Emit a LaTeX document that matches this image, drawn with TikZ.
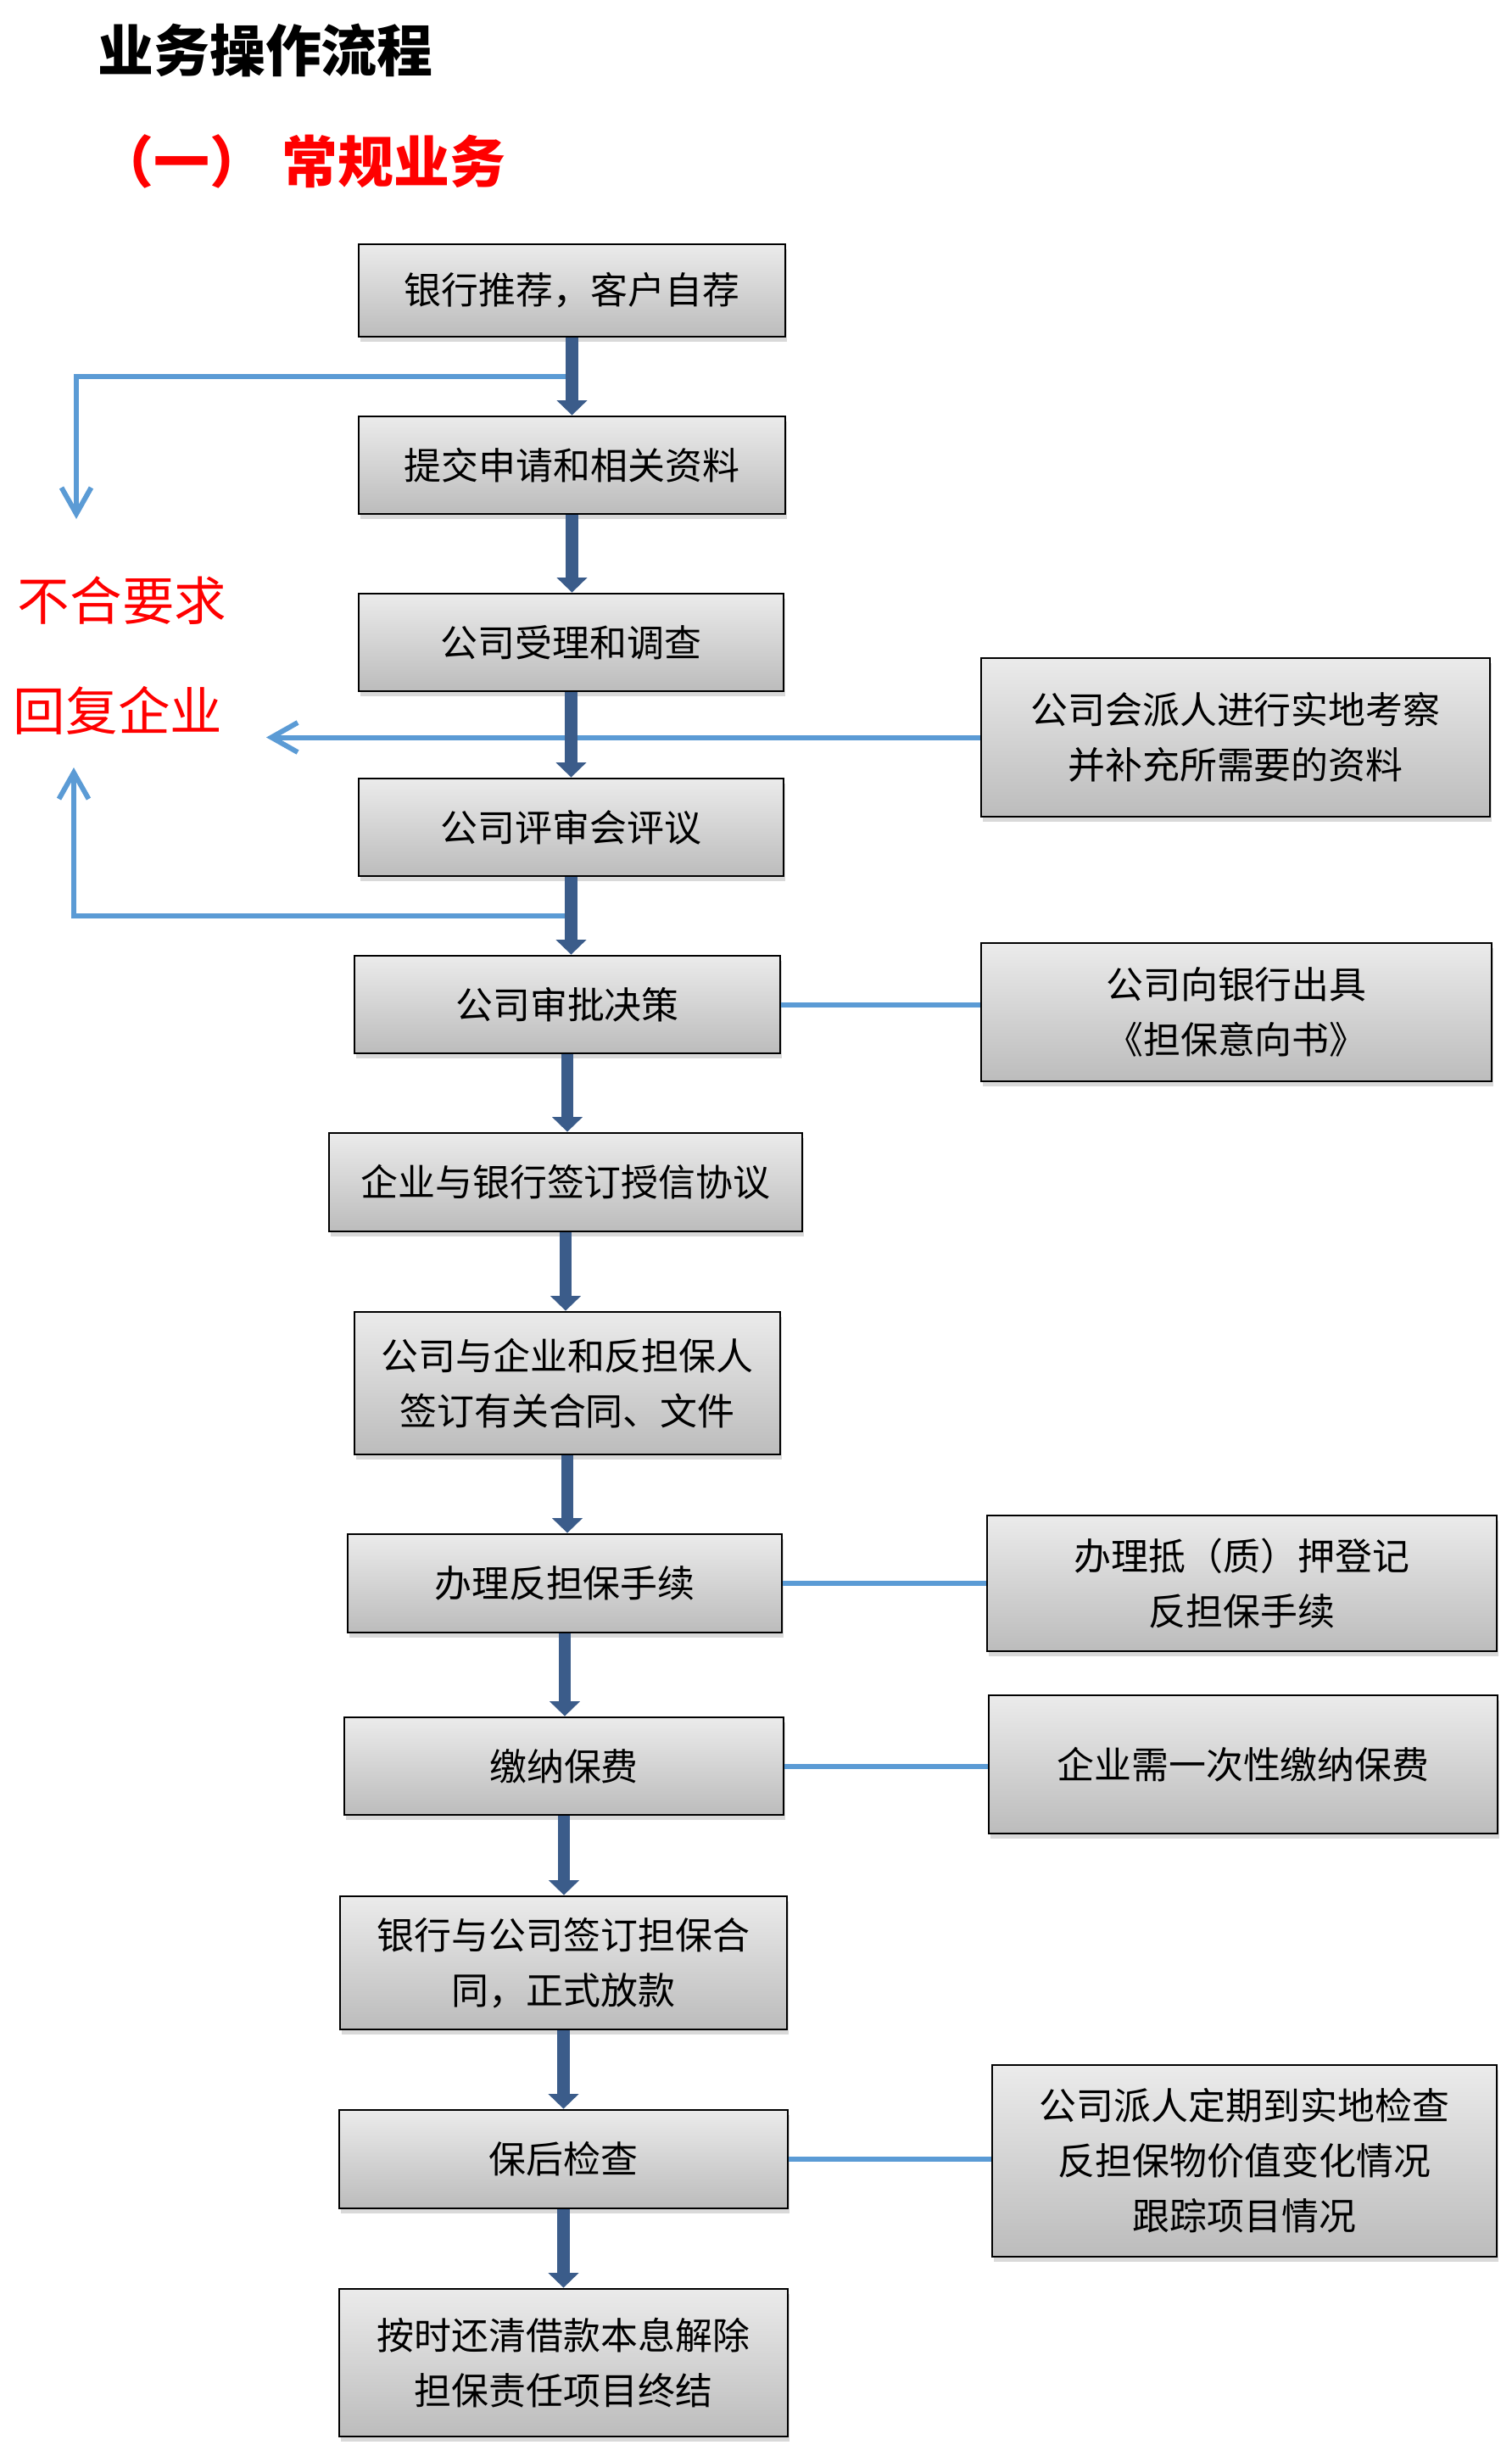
\documentclass[tikz,border=0pt]{standalone}
\usepackage{fontspec}
\setmainfont{Noto Sans CJK SC}
\usetikzlibrary{arrows.meta, calc, shadows}
\definecolor{cdark}{HTML}{3B5C8A}
\definecolor{cline}{HTML}{5B9BD5}
\definecolor{cred}{HTML}{FF0000}
\definecolor{ctop}{HTML}{EBEBEB}
\definecolor{cbot}{HTML}{BCBCBC}
\tikzset{
  box/.style={draw=black, line width=1.6pt, top color=ctop, bottom color=cbot, align=center, inner sep=0pt, minimum width=#1, font=\fontsize{25}{37}\selectfont, drop shadow={shadow xshift=0.04cm, shadow yshift=-0.12cm, opacity=0.3}},
  box/.default=10.06cm,
  flow/.style={-{Triangle[width=20pt, length=10pt]}, draw=cdark, line width=8pt},
  link/.style={draw=cline, line width=3.4pt},
  back/.style={-{Straight Barb[width=0.7cm, length=0.62cm]}, draw=cline, line width=3.4pt},
  title/.style={font=\fontsize{37.5}{40}\selectfont\bfseries, anchor=west, inner sep=0pt},
  warn/.style={font=\fontsize{35}{40}\selectfont, text=cred, inner sep=0pt},
}

\begin{document}
\begin{tikzpicture}[x=1cm, y=1cm]
  \useasboundingbox (0,0) rectangle (35.66,-57.92);
  \node[title] (head) at (2.3,-1.18) {业务操作流程};
  \node[title, text=cred] (sub) at (2.3,-3.8) {（一）\hspace{0.3em}常规业务};
  % main steps
  \node[box, minimum height=2.18cm] (b1) at (13.49,-6.85) {银行推荐，客户自荐};
  \node[box, minimum height=2.3cm] (b2) at (13.49,-10.97) {提交申请和相关资料};
  \node[box=10.02cm, minimum height=2.3cm] (b3) at (13.47,-15.15) {公司受理和调查};
  \node[box=10.02cm, minimum height=2.3cm] (b4) at (13.47,-19.51) {公司评审会评议};
  \node[box=10.04cm, minimum height=2.3cm] (b5) at (13.38,-23.69) {公司审批决策};
  \node[box=11.16cm, minimum height=2.32cm] (b6) at (13.34,-27.88) {企业与银行签订授信协议};
  \node[box=10.04cm, minimum height=3.36cm] (b7) at (13.38,-32.62) {公司与企业和反担保人\\签订有关合同、文件};
  \node[box=10.24cm, minimum height=2.32cm] (b8) at (13.32,-37.34) {办理反担保手续};
  \node[box=10.36cm, minimum height=2.3cm] (b9) at (13.30,-41.65) {缴纳保费};
  \node[box=10.54cm, minimum height=3.14cm] (b10) at (13.29,-46.29) {银行与公司签订担保合\\同，正式放款};
  \node[box=10.58cm, minimum height=2.32cm] (b11) at (13.29,-50.92) {保后检查};
  \node[box=10.58cm, minimum height=3.48cm] (b12) at (13.29,-55.72) {按时还清借款本息解除\\担保责任项目终结};
  % side notes
  \node[box=12cm, minimum height=3.74cm] (r1) at (29.14,-17.39) {公司会派人进行实地考察\\并补充所需要的资料};
  \node[box=12.04cm, minimum height=3.26cm] (r2) at (29.16,-23.87) {公司向银行出具\\《担保意向书》};
  \node[box=12.02cm, minimum height=3.2cm] (r3) at (29.29,-37.34) {办理抵（质）押登记\\反担保手续};
  \node[box=12cm, minimum height=3.26cm] (r4) at (29.32,-41.61) {企业需一次性缴纳保费};
  \node[box=11.9cm, minimum height=4.52cm] (r5) at (29.35,-50.96) {公司派人定期到实地检查\\反担保物价值变化情况\\跟踪项目情况};
  % rejection
  \node[warn] (bad) at (2.88,-14.16) {不合要求};
  \node[warn] (reply) at (2.78,-16.76) {回复企业};
  \coordinate (j1) at ($(b1.south)!0.5!(b2.north)$);
  \coordinate (j2) at ($(b4.south)!0.5!(b5.north)$);
  \coordinate (down) at (1.8,-12.24);
  \coordinate (tip) at (6.28,-17.3);
  \coordinate (up) at (1.74,-18.1);
  \draw[back] (j1) -| (down);
  \draw[back] (r1.west) -- (r1.west -| tip);
  \draw[back] (j2) -| (up);
  % links to notes
  \draw[link] (b5.east) -- (b5.east -| r2.west);
  \draw[link] (b8.east) -- (b8.east -| r3.west);
  \draw[link] (b9.east) -- (b9.east -| r4.west);
  \draw[link] (b11.east) -- (b11.east -| r5.west);
  % flow
  \draw[flow] (b1.south) -- (b1.south |- b2.north); \draw[flow] (b2.south) -- (b2.south |- b3.north);
  \draw[flow] (b3.south) -- (b3.south |- b4.north); \draw[flow] (b4.south) -- (b4.south |- b5.north);
  \draw[flow] (b5.south) -- (b5.south |- b6.north); \draw[flow] (b6.south) -- (b6.south |- b7.north);
  \draw[flow] (b7.south) -- (b7.south |- b8.north); \draw[flow] (b8.south) -- (b8.south |- b9.north);
  \draw[flow] (b9.south) -- (b9.south |- b10.north); \draw[flow] (b10.south) -- (b10.south |- b11.north);
  \draw[flow] (b11.south) -- (b11.south |- b12.north);
\end{tikzpicture}
\end{document}
